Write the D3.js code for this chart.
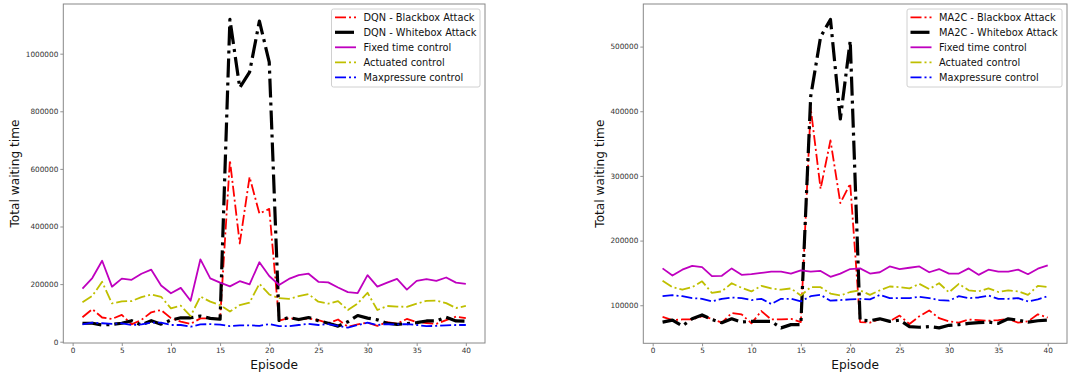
<!DOCTYPE html>
<html>
<head>
<meta charset="utf-8">
<script src="https://cdn.jsdelivr.net/npm/d3@7"></script>
<style>
  html, body { margin: 0; padding: 0; background: #fff; }
  svg { display: block; font-family: "DejaVu Sans", sans-serif; }
</style>
</head>
<body>
<svg id="chart" width="1078" height="376"></svg>
<script>
// ---------------- DATA ----------------
const episodes = d3.range(1, 41);
const xTicks = [0, 5, 10, 15, 20, 25, 30, 35, 40];
const yTicksLeft = [0, 200000, 400000, 600000, 800000, 1000000];
const yTicksRight = [100000, 200000, 300000, 400000, 500000];

const legendLeft = ["DQN - Blackbox Attack", "DQN - Whitebox Attack", "Fixed time control", "Actuated control", "Maxpressure control"];
const legendRight = ["MA2C - Blackbox Attack", "MA2C - Whitebox Attack", "Fixed time control", "Actuated control", "Maxpressure control"];

const dqnBlackbox = [85000, 113000, 84000, 79000, 93000, 60000, 76000, 102000, 110000, 82000, 70000, 62000, 81000, 81000, 79000, 630000, 341000, 572000, 445000, 461000, 73000, 82000, 77000, 81000, 75000, 64000, 77000, 52000, 60000, 66000, 55000, 68000, 63000, 79000, 68000, 65000, 62000, 75000, 87000, 82000];
const dqnWhitebox = [64000, 64000, 58000, 60000, 64000, 73000, 58000, 73000, 61000, 75000, 83000, 83000, 89000, 81000, 78000, 1119000, 882000, 936000, 1113000, 971000, 74000, 84000, 77000, 84000, 73000, 64000, 54000, 69000, 91000, 82000, 76000, 64000, 60000, 63000, 66000, 72000, 72000, 85000, 72000, 71000];
const fixedLeft = [184000, 221000, 281000, 191000, 219000, 215000, 236000, 250000, 195000, 168000, 187000, 142000, 286000, 220000, 205000, 192000, 210000, 199000, 276000, 228000, 197000, 218000, 231000, 236000, 208000, 206000, 188000, 172000, 169000, 231000, 191000, 205000, 218000, 181000, 211000, 217000, 211000, 223000, 205000, 201000];
const actuatedLeft = [137000, 159000, 208000, 133000, 140000, 141000, 155000, 164000, 156000, 116000, 125000, 89000, 157000, 139000, 127000, 105000, 127000, 136000, 201000, 164000, 151000, 149000, 158000, 165000, 139000, 132000, 141000, 110000, 133000, 170000, 110000, 124000, 122000, 121000, 132000, 142000, 143000, 134000, 117000, 124000];
const maxpressureLeft = [60000, 66000, 64000, 62000, 64000, 58000, 60000, 66000, 66000, 58000, 58000, 52000, 60000, 61000, 59000, 54000, 57000, 57000, 55000, 61000, 54000, 54000, 58000, 62000, 58000, 61000, 55000, 49000, 58000, 66000, 58000, 61000, 60000, 61000, 58000, 54000, 55000, 57000, 58000, 58000];

const ma2cBlackbox = [82000, 77000, 78000, 78000, 83000, 79000, 73000, 88000, 86000, 72000, 91000, 78000, 78000, 79000, 74000, 405000, 280000, 355000, 258000, 288000, 74000, 73000, 79000, 75000, 84000, 71000, 83000, 92000, 80000, 75000, 73000, 78000, 77000, 76000, 77000, 79000, 73000, 75000, 86000, 81000];
const ma2cWhitebox = [74000, 77000, 68000, 79000, 85000, 78000, 73000, 79000, 74000, 75000, 75000, 75000, 65000, 70000, 70000, 423000, 515000, 542000, 388000, 509000, 77000, 76000, 79000, 75000, 77000, 67000, 66000, 67000, 65000, 69000, 70000, 72000, 73000, 74000, 72000, 79000, 77000, 74000, 76000, 77000];
const fixedRight = [157000, 146000, 155000, 161000, 159000, 145000, 145500, 157000, 147000, 148000, 150000, 152000, 152000, 149000, 154000, 152000, 153000, 144000, 149000, 156000, 157000, 149000, 151000, 160000, 156000, 158000, 160000, 151000, 156000, 149000, 149000, 157000, 147000, 155000, 152000, 152000, 155000, 148000, 156500, 161500];
const actuatedRight = [138000, 128000, 124000, 128000, 137000, 119000, 121500, 134000, 127000, 121500, 130000, 126000, 124000, 126000, 115000, 128000, 128000, 118000, 115000, 120500, 123000, 116000, 123000, 129000, 128000, 126000, 133000, 125000, 134000, 120000, 133000, 123000, 121500, 126000, 120500, 123000, 121500, 116000, 130000, 128000];
const maxpressureRight = [114000, 115500, 114000, 111000, 110000, 106000, 110000, 112000, 111000, 108000, 110000, 102000, 110000, 110000, 106000, 114000, 116000, 107000, 108000, 109000, 110000, 109000, 116000, 111000, 111000, 111000, 113000, 111000, 108000, 107000, 114000, 111000, 112000, 115000, 110000, 110000, 111000, 106000, 109000, 114000];

// ---------------- STYLES ----------------
const styles = [
  { color: "#ff0000", width: 1.8, dash: "11,3,2,3" },
  { color: "#000000", width: 3.2, dash: "19,5,3,5" },
  { color: "#bf00bf", width: 1.8, dash: null },
  { color: "#bfbf00", width: 1.8, dash: "11,3,2,3" },
  { color: "#0000ff", width: 1.8, dash: "11,3,2,3" }
];

const svg = d3.select("#chart");

function panel(cfg) {
  const { left, right, top, bottom, series, names, yTicks, ylabelX, id } = cfg;
  const all = series.flat();
  const mn = d3.min(all), mx = d3.max(all);
  const pad = (mx - mn) * 0.05;
  const x = d3.scaleLinear().domain([1 - 39 * 0.05, 40 + 39 * 0.05]).range([left, right]);
  const y = d3.scaleLinear().domain([mn - pad, mx + pad]).range([bottom, top]);

  const g = svg.append("g");
  g.append("clipPath").attr("id", "clip" + id)
    .append("rect").attr("x", left).attr("y", top).attr("width", right - left).attr("height", bottom - top);

  const line = d3.line().x((d, i) => x(episodes[i])).y(d => y(d));
  const lg = g.append("g").attr("clip-path", `url(#clip${id})`);
  series.forEach((s, k) => {
    const st = styles[k];
    lg.append("path").datum(s)
      .attr("d", line)
      .attr("fill", "none")
      .attr("stroke", st.color)
      .attr("stroke-width", st.width)
      .attr("stroke-linejoin", "round")
      .attr("stroke-linecap", "butt")
      .attr("stroke-dasharray", st.dash);
  });

  // Axes
  const xAxis = d3.axisBottom(x).tickValues(xTicks).tickSize(3).tickPadding(2).tickFormat(d3.format("d"));
  const yAxis = d3.axisLeft(y).tickValues(yTicks).tickSize(3).tickPadding(2).tickFormat(d3.format("d"));
  const gx = g.append("g").attr("transform", `translate(0,${bottom})`).call(xAxis);
  const gy = g.append("g").attr("transform", `translate(${left},0)`).call(yAxis);
  [gx, gy].forEach(a => {
    a.select(".domain").remove();
    a.selectAll(".tick line").attr("stroke", "#777").attr("stroke-width", 0.8);
    a.selectAll(".tick text").attr("fill", "#333").style("font-size", "7.3px").style("font-family", "DejaVu Sans");
  });

  // Frame
  g.append("rect").attr("x", left).attr("y", top).attr("width", right - left).attr("height", bottom - top)
    .attr("fill", "none").attr("stroke", "#888").attr("stroke-width", 1);

  // Labels
  g.append("text").attr("x", (left + right) / 2).attr("y", 369)
    .attr("text-anchor", "middle").style("font-size", "12.2px").attr("fill", "#111").text("Episode");
  g.append("text").attr("transform", `translate(${ylabelX},${(top + bottom) / 2}) rotate(-90)`)
    .attr("text-anchor", "middle").attr("dy", "0.35em").style("font-size", "12.2px").attr("fill", "#111").text("Total waiting time");

  // Legend
  const bx1 = right - 5, bx0 = bx1 - cfg.legendW;
  const leg = g.append("g");
  leg.append("rect").attr("x", bx0).attr("y", 9).attr("width", bx1 - bx0).attr("height", 78)
    .attr("rx", 2).attr("fill", "#fff").attr("fill-opacity", 0.8).attr("stroke", "#d0d0d0").attr("stroke-width", 1);
  names.forEach((n, k) => {
    const st = styles[k];
    const yy = 17.3 + k * 15;
    leg.append("line").attr("x1", bx0 + 3.5).attr("x2", bx0 + 24.5).attr("y1", yy).attr("y2", yy)
      .attr("stroke", st.color).attr("stroke-width", st.width).attr("stroke-dasharray", st.dash);
    leg.append("text").attr("x", bx0 + 32).attr("y", yy).attr("dy", "0.35em")
      .style("font-size", "9.8px").attr("fill", "#111").text(n);
  });
}

panel({
  id: "L", left: 63.3, right: 485, top: 4, bottom: 343,
  series: [dqnBlackbox, dqnWhitebox, fixedLeft, actuatedLeft, maxpressureLeft],
  names: legendLeft, yTicks: yTicksLeft, ylabelX: 15, legendW: 148.5
});
panel({
  id: "R", left: 643.3, right: 1067, top: 4, bottom: 343.3,
  series: [ma2cBlackbox, ma2cWhitebox, fixedRight, actuatedRight, maxpressureRight],
  names: legendRight, yTicks: yTicksRight, ylabelX: 600, legendW: 155
});
</script>
</body>
</html>
